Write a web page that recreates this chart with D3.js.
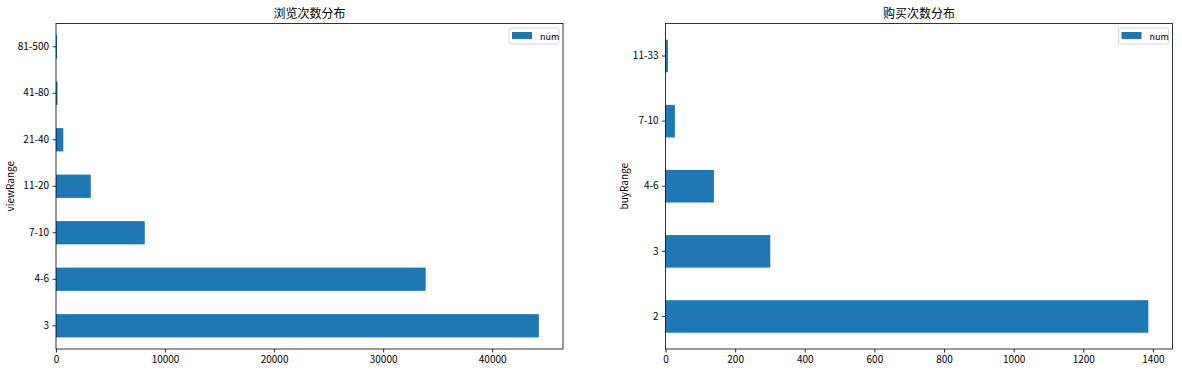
<!DOCTYPE html>
<html>
<head>
<meta charset="utf-8">
<script src="https://cdn.jsdelivr.net/npm/d3@7"></script>
<style>
  body { margin: 0; background: #fff; }
  svg text { font-family: "Noto Sans CJK SC", "DejaVu Sans", sans-serif; fill: #000; }
</style>
</head>
<body>
<svg id="svg" width="1182" height="371"></svg>
<script>
// data
const viewRanges = ['3', '4-6', '7-10', '11-20', '21-40', '41-80', '81-500'];
const viewNums = [44280, 33900, 8140, 3190, 670, 140, 30];
const viewTicks = [0, 10000, 20000, 30000, 40000];

const buyRanges = ['2', '3', '4-6', '7-10', '11-33'];
const buyNums = [1387, 301, 139, 27, 7];
const buyTicks = [0, 200, 400, 600, 800, 1000, 1200, 1400];

const svg = d3.select('#svg');
const plotTop = 23.5, plotBottom = 349;

let drawPanel = (opts) => {
	const g = svg.append('g');
	const x = d3.scaleLinear()
		.domain([0, d3.max(opts.values) * 1.05])
		.range([opts.left, opts.right]);
	const y = d3.scaleBand()
		.domain(opts.cats)
		.range([plotBottom, plotTop])
		.paddingInner(0.5)
		.paddingOuter(0.25);

	// bars
	g.selectAll('.bar').data(opts.cats).enter()
		.append('rect')
		.attr('class', 'bar')
		.attr('x', x(0))
		.attr('y', d => y(d))
		.attr('width', (d, i) => Math.max(1, x(opts.values[i]) - x(0)))
		.attr('height', y.bandwidth())
		.attr('fill', '#1f77b4');

	// axes
	const xa = g.append('g')
		.attr('transform', `translate(0,${plotBottom})`)
		.call(d3.axisBottom(x).tickValues(opts.ticks).tickSize(3.5).tickPadding(3.5).tickFormat(d3.format('d')));
	const ya = g.append('g')
		.attr('transform', `translate(${opts.left},0)`)
		.call(d3.axisLeft(y).tickSize(3.5).tickPadding(3.5));
	[xa, ya].forEach(a => {
		a.select('.domain').remove();
		a.selectAll('line').attr('stroke', '#000').attr('stroke-width', 0.8);
		a.selectAll('text').attr('font-size', 10).attr('fill', '#000')
			.style('font-family', '"Noto Sans CJK SC", sans-serif');
	});

	// frame
	g.append('rect')
		.attr('x', opts.left).attr('y', plotTop)
		.attr('width', opts.right - opts.left).attr('height', plotBottom - plotTop)
		.attr('fill', 'none').attr('stroke', '#000').attr('stroke-width', 0.8);

	// title
	g.append('text')
		.attr('x', (opts.left + opts.right) / 2).attr('y', 18)
		.attr('text-anchor', 'middle').attr('font-size', 12)
		.text(opts.title);

	// y label
	g.append('text')
		.attr('transform', `translate(${opts.ylabelX},${(plotTop + plotBottom) / 2}) rotate(-90)`)
		.attr('text-anchor', 'middle').attr('font-size', 10)
		.text(opts.ylabel);

	// legend
	const lg = g.append('g').attr('transform', `translate(${opts.right - 54},${plotTop + 4.5})`);
	lg.append('rect')
		.attr('x', 0).attr('y', 0).attr('width', 50).attr('height', 16)
		.attr('rx', 2).attr('fill', '#fff').attr('fill-opacity', 0.8)
		.attr('stroke', '#ccc').attr('stroke-width', 0.8);
	lg.append('rect')
		.attr('x', 3).attr('y', 4).attr('width', 20).attr('height', 7)
		.attr('fill', '#1f77b4');
	lg.append('text')
		.attr('x', 31).attr('y', 11.5).attr('font-size', 9)
		.text('num');
};

drawPanel({
	cats: viewRanges, values: viewNums, ticks: viewTicks,
	left: 56, right: 563, title: '浏览次数分布', ylabel: 'viewRange', ylabelX: 14
});
drawPanel({
	cats: buyRanges, values: buyNums, ticks: buyTicks,
	left: 665.5, right: 1172.5, title: '购买次数分布', ylabel: 'buyRange', ylabelX: 628
});
</script>
</body>
</html>
